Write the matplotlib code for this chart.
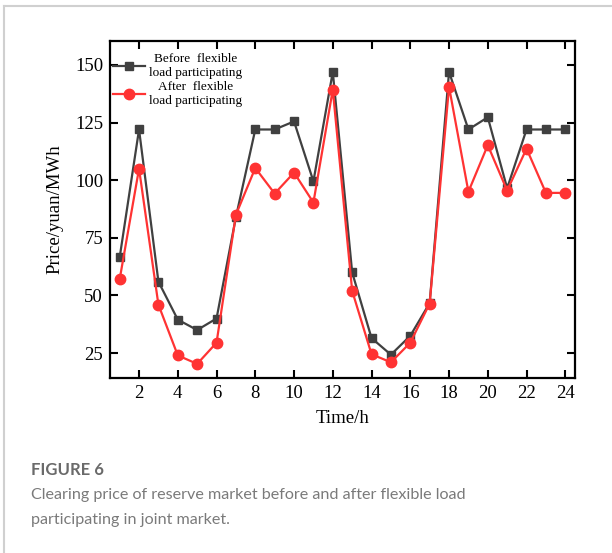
import numpy as np
import matplotlib.pyplot as plt
from matplotlib.lines import Line2D

plt.rcParams['font.family'] = ['Liberation Serif', 'DejaVu Serif']

hours = np.arange(1, 25)
before = [66.5, 122, 56, 39.5, 35, 40, 84, 122, 122, 125.5, 99.5, 147,
          60, 31.5, 24.3, 32.5, 46.7, 147, 122, 127.3, 96.5, 122, 122, 122]
after = [57, 105, 46, 24, 20.3, 29.5, 85, 105.3, 94.2, 103.3, 90.3, 139.3,
         52, 24.5, 21, 29.5, 46.5, 140.5, 95, 115.2, 95.5, 113.7, 94.5, 94.5]
xticks = list(range(2, 25, 2))
yticks = [25, 50, 75, 100, 125, 150]

fig = plt.figure(figsize=(6.12, 5.53), dpi=100)
ax = fig.add_axes([0.1797, 0.3165, 0.7598, 0.6094])

ax.plot(hours, before, color='#404040', marker='s', markersize=6, linewidth=1.6,
        label='Before  flexible\nload participating')
ax.plot(hours, after, color='#ff3333', marker='o', markersize=7.5, linewidth=1.6,
        label='After  flexible\nload participating')

ax.set_xlim(0.5, 24.5)
ax.set_ylim(14.2, 160.4)
ax.set_xticks(xticks)
ax.set_yticks(yticks)
ax.tick_params(direction='in', length=6, width=1.5, top=True, right=True,
               labelsize=13.5, pad=5)
for s in ax.spines.values():
    s.set_linewidth(1.6)

ax.set_xlabel('Time/h', fontsize=13.5, labelpad=6)
ax.set_ylabel('Price/yuan/MWh', fontsize=13.5, labelpad=8)

leg = ax.legend(loc='upper left', bbox_to_anchor=(-0.01, 0.988), frameon=False,
                fontsize=9.5, handlelength=2.4, handletextpad=0.3,
                labelspacing=0.2, borderaxespad=0.2)
for t in leg.get_texts():
    t.set_multialignment('center')

# caption below the chart
cap_font = ['Lato', 'DejaVu Sans']
fig.text(0.051, 0.150, 'FIGURE 6', fontsize=12, color='#6a6a6a',
         family=cap_font, fontweight='bold', va='center')
fig.text(0.051, 0.104, 'Clearing price of reserve market before and after flexible load',
         fontsize=11.6, color='#7a7a7a', family=cap_font, va='center')
fig.text(0.051, 0.059, 'participating in joint market.',
         fontsize=11.6, color='#7a7a7a', family=cap_font, va='center')

# thin grey frame on top and left
fig.add_artist(Line2D([0.007, 1.0], [0.989, 0.989], color='#d0d0d0', linewidth=1.5,
                      transform=fig.transFigure))
fig.add_artist(Line2D([0.007, 0.007], [0.0, 0.989], color='#d0d0d0', linewidth=1.5,
                      transform=fig.transFigure))

fig.savefig('out.png', dpi=100, facecolor='white')
